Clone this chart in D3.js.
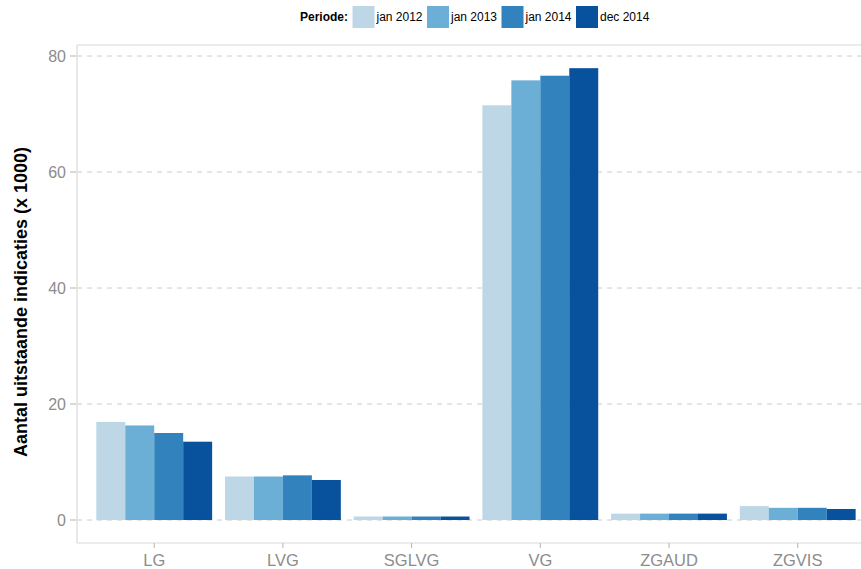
<!DOCTYPE html>
<html><head><meta charset="utf-8">
<script src="https://cdn.jsdelivr.net/npm/d3@7"></script>
<style>body{margin:0;background:#fff;} svg{display:block;font-family:Arial,"Liberation Sans",sans-serif;}</style>
</head><body>
<svg id="c" width="861" height="569"></svg>
<script>
const categories = ["LG","LVG","SGLVG","VG","ZGAUD","ZGVIS"];
const periods = ["jan 2012","jan 2013","jan 2014","dec 2014"];
const colors = ["#BDD7E7","#6BAED6","#3182BD","#08519C"];
const v2012 = [16.9, 7.5, 0.6, 71.5, 1.1, 2.4];
const v2013 = [16.3, 7.5, 0.6, 75.8, 1.1, 2.1];
const v2014 = [15.0, 7.7, 0.6, 76.6, 1.1, 2.1];
const vdec14 = [13.5, 6.9, 0.6, 77.9, 1.1, 1.9];
const yTicks = [0,20,40,60,80];
const series = [v2012, v2013, v2014, vdec14];

const svg = d3.select("#c");
const L = 77, T = 45, B = 543;
const step = 128.7;
// ggplot-like discrete scale: expand 0.6 units on each side, bars 0.9 wide
const x = d3.scalePoint().domain(categories).range([L + 0.6*step, L + 5.6*step]);
const y = d3.scaleLinear().domain([0,80]).range([520,56]);

// panel border
const bc = "#d9d9d9";
svg.append("line").attr("x1",L).attr("x2",861).attr("y1",T).attr("y2",T).attr("stroke",bc).attr("stroke-width",1.2);
svg.append("line").attr("x1",L).attr("x2",861).attr("y1",B).attr("y2",B).attr("stroke",bc).attr("stroke-width",1.2);
svg.append("line").attr("x1",L).attr("x2",L).attr("y1",T).attr("y2",B).attr("stroke",bc).attr("stroke-width",1.2);

// grid
svg.append("g").selectAll("line").data(yTicks).join("line")
  .attr("x1",L).attr("x2",861).attr("y1",d=>y(d)).attr("y2",d=>y(d))
  .attr("stroke","#cccccc").attr("stroke-width",1).attr("stroke-dasharray","5,5");

// bars
const bw = 0.9*step/4;
series.forEach((s,k)=>{
  svg.append("g").selectAll("rect").data(categories.map((c,i)=>({c,v:s[i]}))).join("rect")
    .attr("x",d=>x(d.c) - 0.45*step + k*bw)
    .attr("width",bw)
    .attr("y",d=>y(d.v))
    .attr("height",d=>y(0)-y(d.v))
    .attr("fill",colors[k]);
});

// y axis ticks and labels
const ya = svg.append("g");
ya.selectAll("line").data(yTicks).join("line")
  .attr("x1",70).attr("x2",76).attr("y1",d=>y(d)).attr("y2",d=>y(d)).attr("stroke","#b3b3b3");
ya.selectAll("text").data(yTicks).join("text")
  .attr("x",66).attr("y",d=>y(d)).attr("dy","0.36em").attr("text-anchor","end")
  .attr("font-size",16).attr("fill","#8c8c8c").text(d=>d);

// x axis ticks and labels
const xa = svg.append("g");
xa.selectAll("line").data(categories).join("line")
  .attr("x1",d=>x(d)).attr("x2",d=>x(d)).attr("y1",B).attr("y2",B+5).attr("stroke","#b3b3b3");
xa.selectAll("text").data(categories).join("text")
  .attr("x",d=>x(d)).attr("y",566).attr("text-anchor","middle")
  .attr("font-size",16.5).attr("fill","#8c8c8c").text(d=>d);

// y title
svg.append("text").attr("transform","translate(27,302) rotate(-90)")
  .attr("text-anchor","middle").attr("font-size",18).attr("font-weight","bold").attr("fill","#000")
  .text("Aantal uitstaande indicaties (x 1000)");

// legend
const lg = svg.append("g");
lg.append("text").attr("x",348).attr("y",17).attr("dy","0.36em").attr("text-anchor","end")
  .attr("font-size",12).attr("font-weight","bold").text("Periode:");
periods.forEach((p,k)=>{
  const x0 = 352.5 + k*74.5;
  lg.append("rect").attr("x",x0).attr("y",6).attr("width",22).attr("height",22).attr("fill",colors[k]);
  lg.append("text").attr("x",x0+24).attr("y",17).attr("dy","0.36em").attr("font-size",12).attr("fill","#000").text(p);
});
</script>
</body></html>
